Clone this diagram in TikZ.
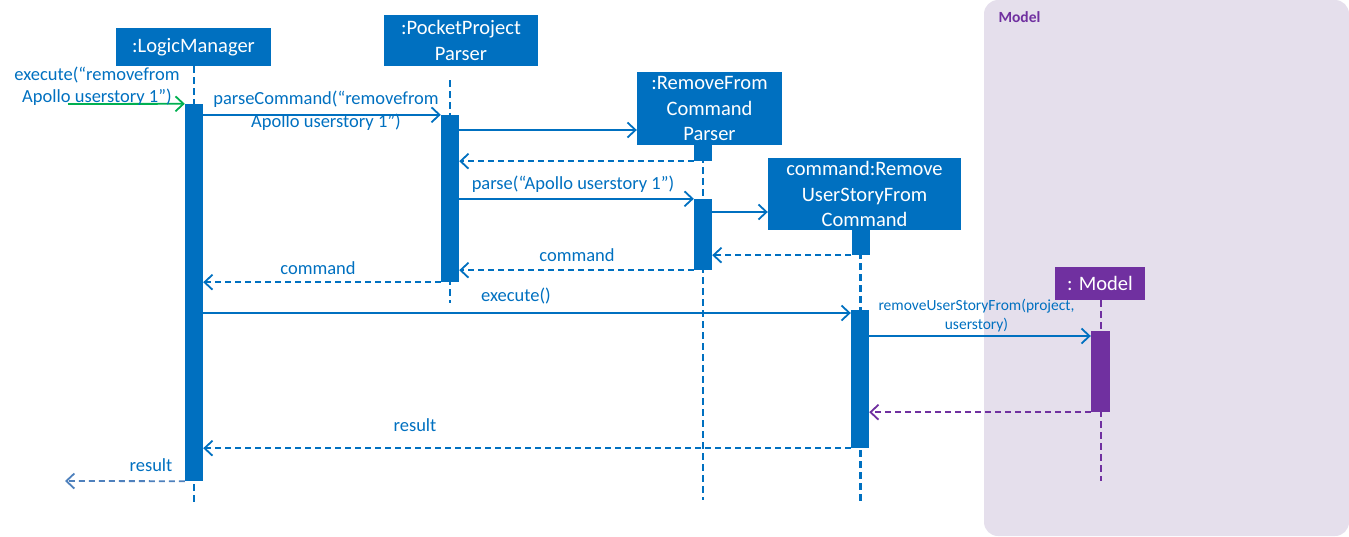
\documentclass[tikz,border=0pt]{standalone}
\usepackage{fontspec}
\setmainfont{Carlito}
\usetikzlibrary{arrows.meta,
                positioning}
\definecolor{umlblue}{HTML}{0070C0}
\definecolor{umlpurple}{HTML}{7030A0}
\definecolor{umlgreen}{HTML}{00B050}
\definecolor{umlgrey}{HTML}{4F81BD}
\definecolor{modelbg}{HTML}{E5DFEC}
\begin{document}
\begin{tikzpicture}[x=1pt, y=-1pt,
                >={Straight Barb[length=8pt,width=15pt]},
                obj/.style={fill=umlblue, text=white, inner sep=0pt, align=center,
                            font=\fontsize{20.5}{25.5}\selectfont},
                bar/.style={fill=umlblue, inner sep=0pt, minimum width=18pt},
                life/.style={umlblue, line width=2.2pt, dash pattern=on 7pt off 4pt},
                call/.style={->, umlblue, line width=1.8pt},
                ret/.style={->, umlblue, line width=1.8pt, dash pattern=on 6pt off 4pt},
                msg/.style={text=umlblue, align=center, inner sep=0pt,
                            font=\fontsize{18.5}{22.5}\selectfont}]
                \useasboundingbox (0,0) rectangle (1349,536);
                % model frame
                \fill [modelbg, rounded corners=14pt] (984,0) rectangle (1349,536);
                \node (frame) [text=umlpurple, inner sep=0pt, font=\fontsize{15.5}{18}\selectfont\bfseries] at (1019.5,17) {Model};
                % objects
                \node (lm) [obj, minimum width=155pt, minimum height=38pt] at (193.5,47) {:LogicManager};
                \node (pp) [obj, minimum width=154pt, minimum height=51pt] at (461,40.5) {:PocketProject\\Parser};
                \node (rp) [obj, minimum width=145pt, minimum height=73pt] at (709.5,108.5) {:RemoveFrom\\Command\\Parser};
                \node (cmd) [obj, minimum width=193pt, minimum height=72pt] at (864.5,194) {command:Remove\\UserStoryFrom\\Command};
                \node (mdl) [obj, fill=umlpurple, minimum width=90pt, minimum height=33pt] at (1100,283.5) {: Model};
                % lifelines
                \coordinate (lmend) at (194,502);
                \coordinate (pptop) at (450,80);
                \coordinate (ppend) at (450,303);
                \coordinate (rpend) at (703,500);
                \coordinate (cmdend) at (860.5,503);
                \coordinate (mdlend) at (1101,481);
                \draw [life] (lmend |- lm.south) -- (lmend);
                \draw [life] (pptop) -- (ppend);
                \draw [life] (rpend |- rp.south) -- (rpend);
                \draw [life] (cmdend |- cmd.south) -- (cmdend);
                \draw [life, umlpurple] (mdlend |- mdl.south) -- (mdlend);
                % activation bars
                \node (lmbar) [bar, minimum height=377pt] at (194,292.5) {};
                \node (ppbar) [bar, minimum height=167pt] at (450,198.5) {};
                \node (rpstub) [bar, minimum height=16pt] at (703,153) {};
                \node (rpbar) [bar, minimum height=71pt] at (703,234.5) {};
                \node (cmdstub) [bar, minimum height=25pt] at (860.5,242.5) {};
                \node (cmdbar) [bar, minimum height=138pt] at (860,379) {};
                \node (mdlbar) [bar, fill=umlpurple, minimum width=19pt, minimum height=81pt] at (1100.5,371.5) {};
                % messages
                \coordinate (start) at (68,104);
                \coordinate (finish) at (65,481);
                \draw [call, umlgreen] (start) -- (lmbar.north west);
                \draw [call] (lmbar.east |- ppbar.north west) -- (ppbar.north west);
                \draw [call] (ppbar.east |- 0,130) -- (rp.west |- 0,130);
                \draw [ret] (rpstub.south west) -- (ppbar.east |- rpstub.south west);
                \draw [call] (ppbar.east |- rpbar.north west) -- (rpbar.north west);
                \draw [call] (rpbar.east |- 0,212) -- (cmd.west |- 0,212);
                \draw [ret] (cmdstub.south west) -- (rpbar.east |- cmdstub.south west);
                \draw [ret] (rpbar.south west) -- (ppbar.east |- rpbar.south west);
                \draw [ret] (ppbar.south west) -- (lmbar.east |- ppbar.south west);
                \draw [call] (lmbar.east |- 0,313) -- (cmdbar.west |- 0,313);
                \draw [call] (cmdbar.east |- 0,336) -- (mdlbar.west |- 0,336);
                \draw [ret, umlpurple] (mdlbar.south west) -- (cmdbar.east |- mdlbar.south west);
                \draw [ret] (cmdbar.south west) -- (lmbar.east |- cmdbar.south west);
                \draw [ret, umlgrey] (lmbar.south west) -- (finish);
                % labels
                \node (lblexec) [msg] at (97,86) {execute(“removefrom\\Apollo userstory 1”)};
                \node (lblparsecmd) [msg] at (326,110.5) {parseCommand(“removefrom\\Apollo userstory 1”)};
                \node (lblparse) [msg] at (573,184) {parse(“Apollo userstory 1”)};
                \node (lblcmdrp) [msg] at (577,255) {command};
                \node (lblcmdpp) [msg] at (318,268) {command};
                \node (lblexecute) [msg] at (516,296) {execute()};
                \node (lblremove) [msg, font=\fontsize{15.5}{19}\selectfont] at (976.5,315.5) {removeUserStoryFrom(project,\\userstory)};
                \node (lblresultcmd) [msg] at (415,425) {result};
                \node (lblresultlm) [msg] at (151,465) {result};
            \end{tikzpicture}
\end{document}
